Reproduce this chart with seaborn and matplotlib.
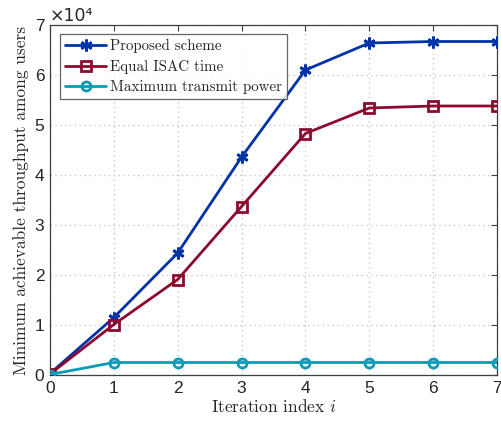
import numpy as np
import pandas as pd
import matplotlib
matplotlib.use("Agg")
import matplotlib.pyplot as plt
import seaborn as sns
from matplotlib.ticker import FuncFormatter

# data (throughput, bits)
iterations = [0, 1, 2, 3, 4, 5, 6, 7]
proposed = [300, 11500, 24400, 43600, 61000, 66400, 66700, 66700]
equal_isac = [200, 10100, 19100, 33700, 48300, 53400, 53800, 53800]
max_power = [100, 2500, 2500, 2500, 2500, 2500, 2500, 2500]
series_names = ["Proposed scheme", "Equal ISAC time", "Maximum transmit power"]

sns.set_style("white")
plt.rcParams["mathtext.fontset"] = "cm"
plt.rcParams["axes.unicode_minus"] = False

df = pd.DataFrame({
    "iter": iterations * 3,
    "value": proposed + equal_isac + max_power,
    "scheme": sum([[n] * len(iterations) for n in series_names], []),
})

colors = {"Proposed scheme": "#0033A8",
          "Equal ISAC time": "#8C0A2E",
          "Maximum transmit power": "#0A9BBA"}
markers = {"Proposed scheme": (6, 2, 0),
           "Equal ISAC time": "s",
           "Maximum transmit power": "o"}

fig = plt.figure(figsize=(5.01, 4.24), dpi=100)
ax = fig.add_axes([50 / 501, 1 - 375 / 424, 447 / 501, 350 / 424])

for name in series_names:
    sub = df[df["scheme"] == name]
    face = colors[name] if name == "Proposed scheme" else "none"
    sns.lineplot(data=sub, x="iter", y="value", ax=ax, color=colors[name],
                 lw=2, marker=markers[name], markersize=6.5 if name != "Proposed scheme" else 8.5,
                 mfc=face, mec=colors[name], mew=2, label=name, zorder=3)

ax.set_xlim(0, 7)
ax.set_ylim(0, 70000)
ax.set_xticks(range(0, 8))
ax.set_yticks(np.arange(0, 70001, 10000))
ax.yaxis.set_major_formatter(FuncFormatter(lambda v, p: f"{v / 1e4:g}"))
for lab in ax.get_xticklabels() + ax.get_yticklabels():
    lab.set_family("Liberation Sans")
ax.tick_params(direction="in", top=True, right=True, labelsize=12.5, length=4,
               color="#404040", pad=4)
ax.grid(True, ls=(0, (1, 2.5)), color="#c8c8c8", lw=1)
for s in ax.spines.values():
    s.set_color("#404040")
    s.set_linewidth(0.9)

ax.set_xlabel(r"Iteration index $i$", family="cmr10", fontsize=12.5, labelpad=2)
ax.set_ylabel("Minimum achievable throughput among users", family="cmr10",
              fontsize=12.5, labelpad=4)
# MATLAB-style exponent label above the y axis
fig.text(50 / 501, 1 - 16 / 424, "×10⁴", family="DejaVu Sans", fontsize=12.5,
         va="center", ha="left")

leg = ax.legend(loc="upper left", bbox_to_anchor=(10 / 447, 1 - 9 / 350),
                prop={"family": "cmr10", "size": 10.8}, frameon=True, fancybox=False,
                handlelength=2.7, borderaxespad=0, borderpad=0.35, labelspacing=0.42,
                handletextpad=0.3)
leg.get_frame().set_edgecolor("#404040")
leg.get_frame().set_linewidth(0.9)

fig.savefig("out.png", dpi=100)
